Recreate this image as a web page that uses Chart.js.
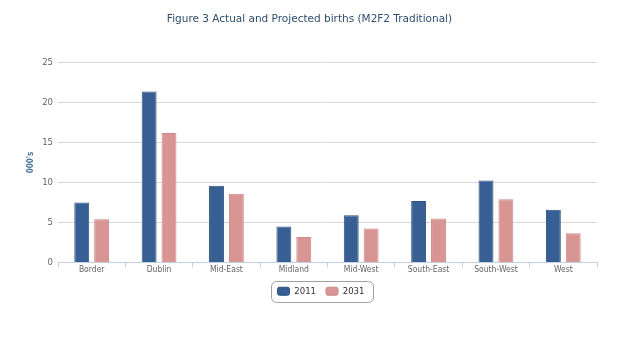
<!DOCTYPE html>
<html>
<head>
<meta charset="utf-8">
<script src="https://cdn.jsdelivr.net/npm/chart.js@4"></script>
<style>
  html, body { margin: 0; padding: 0; background: #fff; }
  #wrap { width: 642px; height: 338px; }
</style>
</head>
<body>
<div id="wrap"><canvas id="birthsChart"></canvas></div>
<script>
  // Data (thousands of births)
  const regions = ['Border', 'Dublin', 'Mid-East', 'Midland', 'Mid-West', 'South-East', 'South-West', 'West'];
  const births2011 = [7.5, 21.4, 9.6, 4.5, 5.9, 7.7, 10.25, 6.6];
  const births2031 = [5.4, 16.2, 8.6, 3.2, 4.25, 5.5, 7.9, 3.65];
  const yTicks = [0, 5, 10, 15, 20, 25];

  const FONT = "'DejaVu Sans', Verdana, sans-serif";
  const NARROW = "'DejaVu Sans Condensed', 'DejaVu Sans', sans-serif";

  // Legend is centred on the whole canvas, not on the padded area, and gets a rounded frame
  const legendFrame = {
    id: 'legendFrame',
    afterLayout(chart) {
      const lg = chart.legend;
      const shift = (chart.width - lg.left - lg.right) / 2;
      lg.left += shift;
      lg.right += shift;
    },
    afterDraw(chart) {
      const lg = chart.legend;
      if (!lg || !lg.legendHitBoxes.length) return;
      const boxes = lg.legendHitBoxes;
      const x0 = boxes[0].left - 7;
      const last = boxes[boxes.length - 1];
      const x1 = last.left + last.width + 8;
      const cy = boxes[0].top + boxes[0].height / 2;
      const ctx = chart.ctx;
      ctx.save();
      ctx.strokeStyle = '#a0a0a0';
      ctx.lineWidth = 1;
      ctx.beginPath();
      ctx.roundRect(Math.round(x0) + 0.5, Math.round(cy - 10.5) + 0.5, Math.round(x1 - x0), 21, 5);
      ctx.stroke();
      ctx.restore();
    }
  };

  const ctx = document.getElementById('birthsChart').getContext('2d');
  const birthsChart = new Chart(ctx, {
    type: 'bar',
    data: {
      labels: regions,
      datasets: [{
        label: '2011',
        data: births2011,
        backgroundColor: '#375f93',
        borderColor: '#2e5282',
        borderWidth: 1
      }, {
        label: '2031',
        data: births2031,
        backgroundColor: '#d99594',
        borderColor: '#d08988',
        borderWidth: 1
      }]
    },
    options: {
      responsive: true,
      maintainAspectRatio: false,
      animation: false,
      layout: { padding: { left: 22, right: 45, top: 8, bottom: 32 } },
      datasets: {
        bar: { categoryPercentage: 0.59, barPercentage: 0.75 }
      },
      plugins: {
        title: {
          display: true,
          text: 'Figure 3 Actual and Projected births (M2F2 Traditional)',
          color: '#2f4f6f',
          font: { family: FONT, size: 10.5, weight: 'normal' },
          padding: { top: 5, bottom: 37 }
        },
        legend: {
          position: 'bottom',
          labels: {
            color: '#333',
            font: { family: NARROW, size: 9.5 },
            boxWidth: 12,
            boxHeight: 8,
            useBorderRadius: true,
            borderRadius: 2,
            padding: 10
          }
        },
        tooltip: { enabled: false }
      },
      scales: {
        y: {
          min: 0,
          max: 25,
          afterBuildTicks(axis) {
            axis.ticks = yTicks.map(v => ({ value: v }));
          },
          afterFit(axis) {
            axis.width = 36;
          },
          border: { display: false },
          grid: { color: '#d8d8d8', drawTicks: false },
          ticks: {
            color: '#666',
            font: { family: NARROW, size: 9.5 },
            padding: 5
          },
          title: {
            display: true,
            text: "000's",
            color: '#4d759e',
            font: { family: NARROW, size: 8, weight: 'bold' },
            padding: { top: 4, bottom: 0 }
          }
        },
        x: {
          afterFit(axis) {
            axis.height = 14;
          },
          border: { display: true, color: '#c0d0e0' },
          grid: {
            display: true,
            offset: true,
            drawOnChartArea: false,
            color: '#c0d0e0',
            tickLength: 5
          },
          ticks: {
            color: '#666',
            font: { family: NARROW, size: 8.5 },
            padding: -3,
            maxRotation: 0
          }
        }
      }
    },
    plugins: [legendFrame]
  });
</script>
</body>
</html>
